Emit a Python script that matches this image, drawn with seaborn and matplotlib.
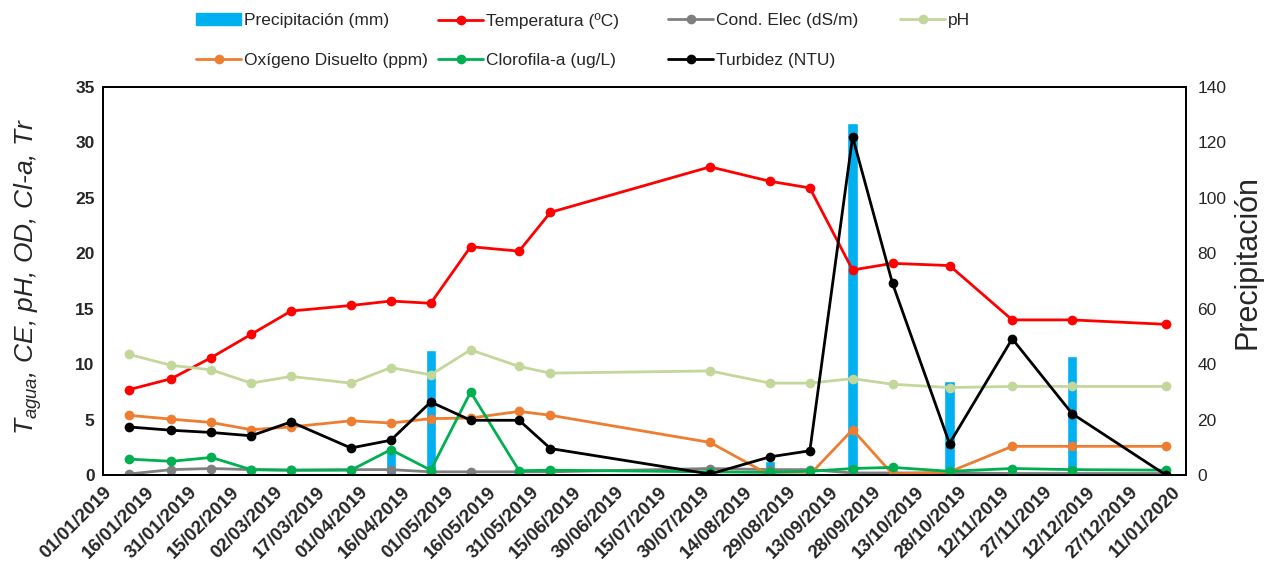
import matplotlib
matplotlib.use("Agg")
import pandas as pd
import matplotlib.pyplot as plt
import seaborn as sns
from matplotlib.lines import Line2D
from matplotlib.patches import Patch

# fechas de muestreo y variables
fechas = ["2019-01-10", "2019-01-25", "2019-02-08", "2019-02-22", "2019-03-08",
          "2019-03-29", "2019-04-12", "2019-04-26", "2019-05-10", "2019-05-27",
          "2019-06-07", "2019-08-02", "2019-08-23", "2019-09-06", "2019-09-21",
          "2019-10-05", "2019-10-25", "2019-11-16", "2019-12-07", "2020-01-09"]
precipitacion = [0, 0, 0, 0, 0, 0, 10, 45, 0, 0, 0, 0, 5, 0, 127, 0, 34, 0, 43, 0]
temperatura = [7.7, 8.7, 10.6, 12.7, 14.8, 15.3, 15.7, 15.5, 20.6, 20.2,
               23.7, 27.8, 26.5, 25.9, 18.5, 19.1, 18.9, 14.0, 14.0, 13.6]
cond_elec = [0.1, 0.5, 0.6, 0.5, 0.45, 0.5, 0.5, 0.3, 0.3, 0.3,
             0.3, 0.6, 0.5, 0.5, 0.2, 0.2, 0.2, 0.15, 0.15, 0.15]
ph = [10.9, 9.9, 9.5, 8.3, 8.9, 8.3, 9.7, 9.05, 11.3, 9.8,
      9.2, 9.4, 8.3, 8.3, 8.7, 8.2, 7.9, 8.0, 8.0, 8.0]
oxigeno = [5.4, 5.05, 4.75, 4.1, 4.35, 4.9, 4.7, 5.1, 5.15, 5.75,
           5.4, 2.95, 0.0, 0.05, 4.1, 0.1, 0.3, 2.6, 2.6, 2.6]
clorofila = [1.45, 1.25, 1.6, 0.5, 0.45, 0.45, 2.3, 0.45, 7.5, 0.4,
             0.45, 0.3, 0.25, 0.35, 0.6, 0.7, 0.35, 0.6, 0.5, 0.45]
turbidez = [4.35, 4.05, 3.85, 3.55, 4.8, 2.45, 3.15, 6.6, 4.95, 4.95,
            2.4, 0.1, 1.65, 2.2, 30.5, 17.3, 2.85, 12.3, 5.55, 0.0]

df = pd.DataFrame({
    "fecha": pd.to_datetime(fechas),
    "precip": precipitacion,
    "temp": temperatura,
    "ce": cond_elec,
    "ph": ph,
    "od": oxigeno,
    "cla": clorofila,
    "tr": turbidez,
})

sns.set_theme(style="white")
plt.rcParams["font.family"] = ["Liberation Sans", "DejaVu Sans"]
plt.rcParams["mathtext.fontset"] = "custom"
plt.rcParams["mathtext.rm"] = "Liberation Sans"
plt.rcParams["mathtext.it"] = "Liberation Sans:italic"

fig, ax = plt.subplots(figsize=(12.74, 5.65), dpi=100)
fig.subplots_adjust(left=0.0808, right=0.931, top=0.846, bottom=0.159)

# precipitación en el eje secundario, detrás de las líneas
ax2 = ax.twinx()
ax2.bar(df["fecha"], df["precip"], width=3.6, color="#00B0F0", zorder=1)
ax.set_zorder(ax2.get_zorder() + 1)
ax.patch.set_visible(False)

series = [
    ("temp", "Temperatura (ºC)", "#FF0000"),
    ("ce", "Cond. Elec (dS/m)", "#7F7F7F"),
    ("ph", "pH", "#C4D79B"),
    ("od", "Oxígeno Disuelto (ppm)", "#ED7D31"),
    ("cla", "Clorofila-a (ug/L)", "#00B050"),
    ("tr", "Turbidez (NTU)", "#000000"),
]
handles = {}
for col, lab, c in series:
    sns.lineplot(data=df, x="fecha", y=col, ax=ax, color=c, marker="o",
                 markersize=7, markeredgewidth=0, linewidth=2.0,
                 errorbar=None, legend=False)
    handles[lab] = Line2D([], [], color=c, marker="o", markersize=7,
                          markeredgewidth=0, linewidth=2.0)
handles["Precipitación (mm)"] = Patch(color="#00B0F0")

ticks = pd.date_range("2019-01-01", "2020-01-11", freq="15D")
ax.set_xlim(pd.Timestamp("2019-01-01"), pd.Timestamp("2020-01-16"))
ax.set_xticks(ticks)
ax.set_xticklabels([d.strftime("%d/%m/%Y") for d in ticks], rotation=45,
                   ha="right", rotation_mode="anchor", fontweight="bold",
                   fontsize=13.5)
ax.set_ylim(0, 35)
ax.set_yticks(range(0, 36, 5))
ax.set_yticklabels([str(v) for v in range(0, 36, 5)], fontweight="bold", fontsize=12.5)
ax2.set_ylim(0, 140)
ax2.set_yticks(range(0, 141, 20))
ax2.set_yticklabels([str(v) for v in range(0, 141, 20)], fontsize=12.5)
ax.tick_params(axis="both", length=0, pad=6)
ax2.tick_params(axis="y", length=0, pad=8)

ax.set_xlabel("")
ax.set_ylabel(r"$T_{agua}$, CE, pH, OD, Cl-a, Tr", fontsize=19, style="italic")
ax.yaxis.set_label_coords(-0.054, 0.513)
ax2.set_ylabel("Precipitación", fontsize=22, rotation=90)
ax2.yaxis.set_label_coords(1.043, 0.55)

for a in (ax, ax2):
    for s in a.spines.values():
        s.set_color("black")
        s.set_linewidth(1.3)

# leyenda en columnas de igual ancho, como en Excel
columnas = [["Precipitación (mm)", "Oxígeno Disuelto (ppm)"],
            ["Temperatura (ºC)", "Clorofila-a (ug/L)"],
            ["Cond. Elec (dS/m)", "Turbidez (NTU)"],
            ["pH"]]
x_col = [196, 438, 668, 900]
for labs, xc in zip(columnas, x_col):
    fig.legend([handles[k] for k in labs], labs, loc="upper left",
               bbox_to_anchor=(xc / 1274, 0.977), frameon=False, fontsize=12.5,
               handlelength=2.6, handletextpad=0.15, labelspacing=1.4,
               borderpad=0, borderaxespad=0)

fig.savefig("out.png", dpi=100)
